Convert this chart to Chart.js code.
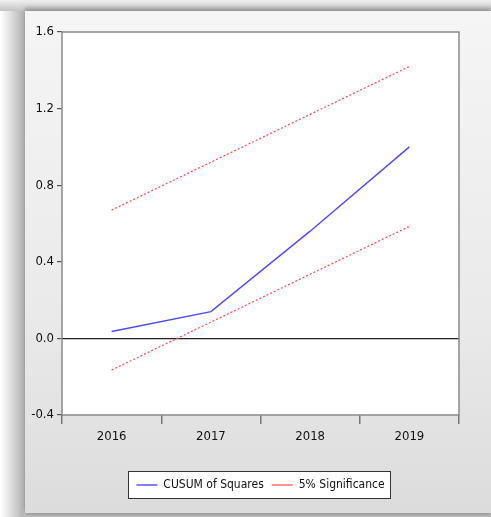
<!DOCTYPE html>
<html>
<head>
    <title>CUSUM of Squares</title>
    <script src="https://cdn.jsdelivr.net/npm/chart.js"></script>
    <style>
        html, body { margin: 0; padding: 0; }
        body { width: 491px; height: 517px; background: #fff; position: relative; overflow: hidden; }
        .frame { position: absolute; left: 0; top: 0; width: 491px; height: 517px;
            background: linear-gradient(90deg, #ffffff 0px, #e8e8e8 8px, #b8b8b8 22px, #c8c8c8 25px); }
        .panel { position: absolute; left: 25px; top: 11px; width: 466px; height: 502px;
            background: linear-gradient(180deg, #f5f5f5 0%, #eaeaea 60%, #dcdcdc 100%);
            box-shadow: 0 -3px 4px rgba(0,0,0,0.25), 0 3px 3px rgba(0,0,0,0.2); }
        .topband { position: absolute; left: 0; top: 0; width: 491px; height: 11px;
            background: linear-gradient(180deg, #f0f0f0 0px, #c4c4c4 11px); }
        canvas { position: absolute; left: 0; top: 0; }
    </style>
</head>
<body>
<div class="frame"></div>
<div class="topband"></div>
<div class="panel"></div>
<canvas id="chart" width="491" height="517"></canvas>
<script>
const years = ['2016', '2017', '2018', '2019'];
const cusumSq = [0.036, 0.14, 0.56, 1.0];
const upperBound = [0.67, 0.92, 1.17, 1.42];
const lowerBound = [-0.165, 0.085, 0.335, 0.585];
const yTicks = [-0.4, 0.0, 0.4, 0.8, 1.2, 1.6];

const font = "'Liberation Sans Narrow', 'DejaVu Sans Condensed', 'Liberation Sans', sans-serif";

// white plot area, gray frame, and a box round the legend
const plotFrame = {
    id: 'plotFrame',
    beforeDraw(chart) {
        const a = chart.chartArea, ctx = chart.ctx;
        ctx.save();
        ctx.fillStyle = '#fff';
        ctx.fillRect(a.left, a.top, a.right - a.left, a.bottom - a.top);
        ctx.restore();
    },
    afterDraw(chart) {
        const a = chart.chartArea, ctx = chart.ctx;
        ctx.save();
        ctx.strokeStyle = '#8a8a8a';
        ctx.lineWidth = 1.5;
        ctx.strokeRect(a.left, a.top, a.right - a.left, a.bottom - a.top);
        const boxes = chart.legend.legendHitBoxes;
        if (boxes && boxes.length) {
            const l = Math.min(...boxes.map(b => b.left)) - 8;
            const r = Math.max(...boxes.map(b => b.left + b.width)) + 6;
            const t = Math.min(...boxes.map(b => b.top)) - 8;
            const btm = Math.max(...boxes.map(b => b.top + b.height)) + 7;
            ctx.globalCompositeOperation = 'destination-over';
            ctx.fillStyle = '#fff';
            ctx.fillRect(l, t, r - l, btm - t);
            ctx.globalCompositeOperation = 'source-over';
            ctx.strokeStyle = '#333';
            ctx.lineWidth = 1;
            ctx.strokeRect(Math.round(l) + 0.5, Math.round(t) + 0.5, Math.round(r - l), Math.round(btm - t));
        }
        ctx.restore();
    }
};

new Chart(document.getElementById('chart'), {
    type: 'line',
    data: {
        labels: years,
        datasets: [
            { label: 'CUSUM of Squares', data: cusumSq, borderColor: '#4a4aff', borderWidth: 1.4,
              pointRadius: 0, tension: 0, fill: false },
            { label: '5% Significance', data: upperBound, borderColor: '#ff4a4a', borderWidth: 1.2,
              borderDash: [2, 2], pointRadius: 0, tension: 0, fill: false },
            { label: '5% Significance', data: lowerBound, borderColor: '#ff4a4a', borderWidth: 1.2,
              borderDash: [2, 2], pointRadius: 0, tension: 0, fill: false }
        ]
    },
    options: {
        responsive: false,
        animation: false,
        layout: { padding: { left: 0, right: 32, top: 32, bottom: 16 } },
        plugins: {
            title: { display: false },
            tooltip: { enabled: false },
            legend: {
                position: 'bottom',
                fullSize: false,
                labels: {
                    color: '#111',
                    font: { family: font, size: 12 },
                    usePointStyle: true,
                    pointStyleWidth: 21,
                    pointStyle: 'line',
                    boxHeight: 13,
                    padding: 8,
                    filter: (item) => item.datasetIndex < 2
                }
            }
        },
        scales: {
            x: {
                offset: true,
                border: { display: false },
                grid: { offset: true, drawOnChartArea: false, drawTicks: true, tickLength: 9, tickColor: '#777', lineWidth: 1.5 },
                ticks: { color: '#111', font: { family: font, size: 13 }, padding: 5, maxRotation: 0 },
                afterFit: (s) => { s.height = 56; }
            },
            y: {
                min: -0.4,
                max: 1.6,
                border: { display: false },
                afterBuildTicks: (s) => { s.ticks = yTicks.map(v => ({ value: v })); },
                grid: {
                    drawTicks: true,
                    tickLength: 5,
                    tickColor: '#555',
                    color: (c) => (c.tick && c.tick.value === 0 ? '#222' : 'rgba(0,0,0,0)'),
                    lineWidth: 1.2
                },
                ticks: { color: '#111', font: { family: font, size: 13 }, padding: 3,
                    callback: (v) => Number(v).toFixed(1) },
                afterFit: (s) => { s.width = 62; }
            }
        }
    },
    plugins: [plotFrame]
});
</script>
</body>
</html>
